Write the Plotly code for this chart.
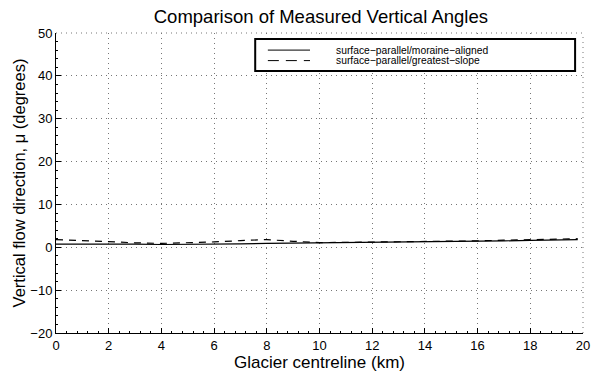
import plotly.graph_objects as go

# Data
km = [0, 1, 2, 3, 4, 5, 6, 7, 8, 9, 10, 11, 12, 13, 14, 15, 16, 17, 18, 19, 19.8]
moraine_aligned = [0.75, 0.8, 0.85, 0.75, 0.65, 0.65, 0.7, 0.8, 0.9, 0.95, 1.05, 1.1, 1.15, 1.2, 1.25, 1.3, 1.4, 1.5, 1.6, 1.7, 1.8]
greatest_slope = [1.8, 1.5, 1.25, 1.05, 0.9, 1.0, 1.25, 1.55, 1.8, 1.4, 1.1, 1.15, 1.2, 1.25, 1.3, 1.4, 1.5, 1.65, 1.8, 1.9, 2.0]
series_names = ["surface\u2212parallel/moraine\u2212aligned", "surface\u2212parallel/greatest\u2212slope"]
x_ticks = list(range(0, 21, 2))
y_ticks = list(range(-20, 51, 10))

font = "Liberation Sans, Arial, sans-serif"
grid_col = "#777"
grid_dash = "1px,4px"
dashes = ["solid", "7px,6px"]
legend_dashes = ["solid", "11px,7px"]

fig = go.Figure()
for vals, name, dash in zip([moraine_aligned, greatest_slope], series_names, dashes):
    fig.add_trace(go.Scatter(x=km, y=vals, mode="lines",
                             line=dict(color="black", width=1.2, dash=dash),
                             name=name, showlegend=False))

fig.update_layout(
    width=592, height=374,
    margin=dict(l=56, r=9, t=33, b=41, autoexpand=False),
    paper_bgcolor="white", plot_bgcolor="white",
    font=dict(family=font, color="black"),
    title=dict(text="Comparison of Measured Vertical Angles", x=0.542, xanchor="center",
               y=0.955, yanchor="middle", font=dict(size=18.5)),
    showlegend=False,
)
fig.update_xaxes(
    range=[0, 20], tickvals=x_ticks, ticktext=[str(v) for v in x_ticks],
    showgrid=True, gridcolor=grid_col, griddash=grid_dash, gridwidth=1,
    showline=True, linecolor="black", linewidth=1, mirror=False,
    ticks="inside", ticklen=5, tickcolor="black",
    minor=dict(dtick=0.4, ticks="inside", ticklen=2, tickcolor="black", showgrid=False),
    zeroline=False, automargin=False,
    tickfont=dict(size=13),
    title=dict(text="Glacier centreline (km)", font=dict(size=17), standoff=0),
)
fig.update_yaxes(
    range=[-20, 50], tickvals=y_ticks, ticktext=[("\u2212" + str(-v)) if v < 0 else str(v) for v in y_ticks],
    showgrid=True, gridcolor=grid_col, griddash=grid_dash, gridwidth=1,
    showline=True, linecolor="black", linewidth=1, mirror=False,
    ticks="inside", ticklen=5, tickcolor="black",
    minor=dict(dtick=2, ticks="inside", ticklen=2, tickcolor="black", showgrid=False),
    zeroline=False, automargin=False,
    tickfont=dict(size=13),
    title=dict(text="Vertical flow direction, \u03bc (degrees)", font=dict(size=16.5), standoff=0),
)
# dotted top and right borders (grid at max)
fig.add_shape(type="line", xref="paper", yref="paper", x0=0, x1=1, y0=1, y1=1,
              line=dict(color=grid_col, width=1, dash=grid_dash))
fig.add_shape(type="line", xref="paper", yref="paper", x0=1, x1=1, y0=0, y1=1,
              line=dict(color=grid_col, width=1, dash=grid_dash))

# Legend box (drawn in paper coordinates, MATLAB style)
fig.add_shape(type="rect", xref="paper", yref="paper", x0=0.378, x1=0.985, y0=0.873, y1=0.98,
              fillcolor="white", line=dict(color="black", width=2), layer="above")
for i, (name, dash) in enumerate(zip(series_names, legend_dashes)):
    yy = 0.943 - i * 0.035
    fig.add_shape(type="line", xref="paper", yref="paper", x0=0.402, x1=0.482,
                  y0=yy, y1=yy, line=dict(color="black", width=1, dash=dash), layer="above")
    fig.add_annotation(xref="paper", yref="paper", x=0.527, y=yy, xanchor="left", yanchor="middle",
                       text=name, showarrow=False, font=dict(size=10.3))

fig.write_html("out.html")
